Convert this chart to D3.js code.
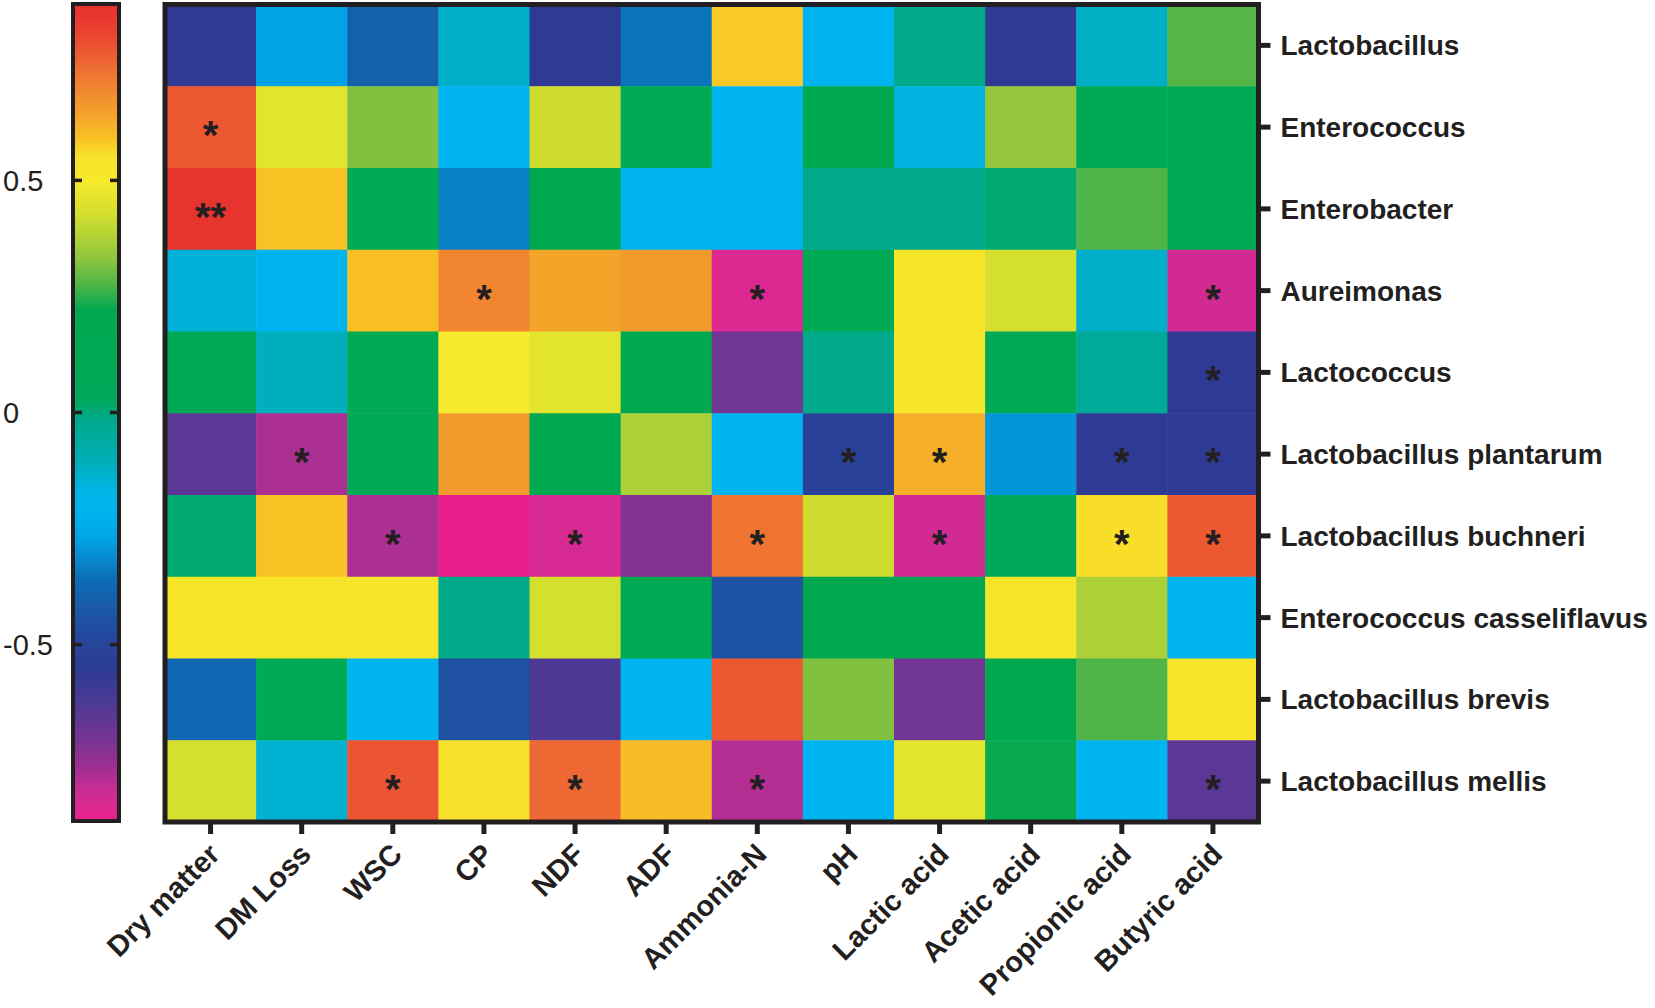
<!DOCTYPE html>
<html lang="en">
<head>
<meta charset="UTF-8">
<title>Correlation heatmap - bacteria vs silage quality</title>
<script src="https://d3js.org/d3.v7.min.js"></script>
<style>
    body {
        margin: 0;
        padding: 0;
        background: #fff;
        font-family: 'Liberation Sans', Arial, sans-serif;
    }
    .ylab text { font-size: 28px; font-weight: bold; fill: #231f20; }
    .xlab text { font-size: 29px; font-weight: bold; fill: #231f20; }
    .cb-label { font-size: 29px; fill: #231f20; }
    .star { font-size: 40px; font-weight: bold; fill: #231f20; }
</style>
</head>
<body>
<div id="chart"></div>
<script>
    // rows (bacteria) and columns (silage parameters)
    const bacteria = ['Lactobacillus', 'Enterococcus', 'Enterobacter', 'Aureimonas', 'Lactococcus',
        'Lactobacillus plantarum', 'Lactobacillus buchneri', 'Enterococcus casseliflavus',
        'Lactobacillus brevis', 'Lactobacillus mellis'];
    const params = ['Dry matter', 'DM Loss', 'WSC', 'CP', 'NDF', 'ADF', 'Ammonia-N', 'pH',
        'Lactic acid', 'Acetic acid', 'Propionic acid', 'Butyric acid'];

    // correlation coefficients (one row per bacterium)
    const corr = [
        [-0.56, -0.27, -0.40, -0.13, -0.56, -0.35, 0.58, -0.21, -0.015, -0.56, -0.12, 0.28],
        [0.78, 0.46, 0.32, -0.21, 0.42, 0.15, -0.21, 0.22, -0.16, 0.34, 0.15, 0.15],
        [0.87, 0.59, 0.15, -0.33, 0.21, -0.21, -0.21, -0.015, -0.015, 0.01, 0.275, 0.15],
        [-0.15, -0.21, 0.595, 0.70, 0.64, 0.66, -0.85, 0.15, 0.53, 0.43, -0.13, -0.83],
        [0.10, -0.11, 0.15, 0.50, 0.46, 0.21, -0.695, -0.015, 0.53, 0.12, -0.04, -0.56],
        [-0.655, -0.78, 0.15, 0.66, 0.21, 0.37, -0.21, -0.52, 0.62, -0.295, -0.56, -0.56],
        [0.01, 0.59, -0.78, -0.88, -0.84, -0.72, 0.73, 0.42, -0.83, 0.03, 0.555, 0.78],
        [0.53, 0.53, 0.53, -0.015, 0.43, 0.15, -0.44, 0.21, 0.18, 0.53, 0.37, -0.21],
        [-0.38, 0.15, -0.21, -0.45, -0.63, -0.21, 0.78, 0.32, -0.695, 0.21, 0.275, 0.53],
        [0.43, -0.14, 0.785, 0.55, 0.75, 0.60, -0.79, -0.21, 0.46, 0.225, -0.21, -0.655]
    ];

    // significance marks
    const signif = [
        ['', '', '', '', '', '', '', '', '', '', '', ''],
        ['*', '', '', '', '', '', '', '', '', '', '', ''],
        ['**', '', '', '', '', '', '', '', '', '', '', ''],
        ['', '', '', '*', '', '', '*', '', '', '', '', '*'],
        ['', '', '', '', '', '', '', '', '', '', '', '*'],
        ['', '*', '', '', '', '', '', '*', '*', '', '*', '*'],
        ['', '', '*', '', '*', '', '*', '', '*', '', '*', '*'],
        ['', '', '', '', '', '', '', '', '', '', '', ''],
        ['', '', '', '', '', '', '', '', '', '', '', ''],
        ['', '', '*', '', '*', '', '*', '', '', '', '', '*']
    ];

    const cbTicks = [-0.5, 0, 0.5];
    const cbDomain = [-0.88, 0.88];

    // rainbow colour map (value -> colour)
    const stopValues = [-0.88, -0.857, -0.81, -0.76, -0.69, -0.625, -0.56, -0.5, -0.43, -0.36, -0.32,
        -0.275, -0.21, -0.165, -0.1, -0.02, 0.03, 0.22, 0.275, 0.34, 0.43, 0.5, 0.55, 0.593, 0.637,
        0.692, 0.747, 0.824, 0.88];
    const stopColors = ['#e91e8c', '#e0278f', '#c62e96', '#9b2f91', '#6e3594', '#4b3a95', '#2e3a93',
        '#27449b', '#1c56a5', '#0b6db4', '#0a86cc', '#00a3e4', '#00b5ef', '#00b4e3', '#00adb5',
        '#00a98e', '#00a95a', '#00a94f', '#4fb548', '#96c83d', '#d5df2e', '#f5ea2b', '#f8e12a',
        '#f8c025', '#f5a52a', '#f18a30', '#ee6a33', '#ea4030', '#e8312e'];

    const color = d3.scaleLinear().domain(stopValues).range(stopColors).clamp(true);

    const width = 1655, height = 1008;
    const ink = '#231f20';

    const svg = d3.select('#chart').append('svg')
        .attr('width', width)
        .attr('height', height);

    // heatmap scales
    const x = d3.scaleBand().domain(params).range([165, 1258.5]);
    const y = d3.scaleBand().domain(bacteria).range([4.5, 822]);

    const cells = [];
    bacteria.forEach((b, i) => params.forEach((p, j) => {
        cells.push({ row: b, col: p, value: corr[i][j], mark: signif[i][j] });
    }));

    svg.append('g').selectAll('rect')
        .data(cells)
        .join('rect')
        .attr('x', d => x(d.col))
        .attr('y', d => y(d.row))
        .attr('width', x.bandwidth() + 0.5)
        .attr('height', y.bandwidth() + 0.5)
        .attr('fill', d => color(d.value));

    svg.append('g').selectAll('text')
        .data(cells.filter(d => d.mark))
        .join('text')
        .attr('class', 'star')
        .attr('x', d => x(d.col) + x.bandwidth() / 2)
        .attr('y', d => y(d.row) + y.bandwidth() / 2 + 22)
        .attr('text-anchor', 'middle')
        .text(d => d.mark);

    // frame
    svg.append('rect')
        .attr('x', 165).attr('y', 4.5)
        .attr('width', 1093.5).attr('height', 817.5)
        .attr('fill', 'none')
        .attr('stroke', ink)
        .attr('stroke-width', 5);

    // right axis: bacteria names
    const yAxis = svg.append('g')
        .attr('class', 'ylab')
        .attr('transform', 'translate(1258.5,0)')
        .call(d3.axisRight(y).tickSize(12).tickPadding(10));
    yAxis.select('.domain').remove();
    yAxis.selectAll('.tick line').attr('stroke', ink).attr('stroke-width', 5);
    yAxis.selectAll('.tick text').attr('font-family', null).attr('font-size', null).attr('dy', '0.36em');

    // bottom axis: parameters, rotated
    const xAxis = svg.append('g')
        .attr('class', 'xlab')
        .attr('transform', 'translate(0,822)')
        .call(d3.axisBottom(x).tickSize(12));
    xAxis.select('.domain').remove();
    xAxis.selectAll('.tick line').attr('stroke', ink).attr('stroke-width', 5);
    xAxis.selectAll('.tick text')
        .attr('font-family', null).attr('font-size', null)
        .attr('y', null).attr('dy', null)
        .attr('text-anchor', 'end')
        .attr('transform', 'translate(11,34) rotate(-45)');

    // colour bar
    const cbY = d3.scaleLinear().domain(cbDomain).range([821, 4]);
    const toOffset = d3.scaleLinear().domain(cbDomain).range([0, 1]);

    const grad = svg.append('defs').append('linearGradient')
        .attr('id', 'cbGrad')
        .attr('x1', 0).attr('y1', 1).attr('x2', 0).attr('y2', 0);
    grad.selectAll('stop')
        .data(stopValues)
        .join('stop')
        .attr('offset', d => toOffset(d))
        .attr('stop-color', (d, i) => stopColors[i]);

    svg.append('rect')
        .attr('x', 73).attr('y', cbY(cbDomain[1]))
        .attr('width', 46).attr('height', cbY(cbDomain[0]) - cbY(cbDomain[1]))
        .attr('fill', 'url(#cbGrad)')
        .attr('stroke', ink)
        .attr('stroke-width', 4);

    // little inner ticks on both edges of the bar
    const cbTickG = svg.append('g').selectAll('g')
        .data(cbTicks)
        .join('g')
        .attr('transform', d => `translate(0,${cbY(d)})`);
    cbTickG.append('line')
        .attr('x1', 75).attr('x2', 82)
        .attr('stroke', ink).attr('stroke-width', 3.5);
    cbTickG.append('line')
        .attr('x1', 110).attr('x2', 117)
        .attr('stroke', ink).attr('stroke-width', 3.5);
    cbTickG.append('text')
        .attr('class', 'cb-label')
        .attr('x', 3)
        .attr('dy', '0.36em')
        .text(d => d);
</script>
</body>
</html>
